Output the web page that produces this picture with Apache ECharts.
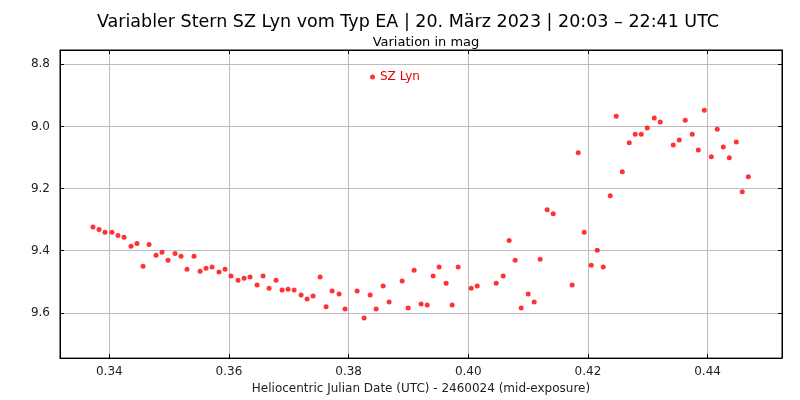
<!DOCTYPE html>
<html>
<head>
<meta charset="utf-8">
<script src="https://cdn.jsdelivr.net/npm/echarts@6/dist/echarts.min.js"></script>
<style>html,body{margin:0;padding:0;background:#fff}#c{width:800px;height:400px}</style>
</head>
<body>
<div id="c"></div>
<script>
const titleText = 'Variabler Stern SZ Lyn vom Typ EA | 20. März 2023 | 20:03 – 22:41 UTC';
const subtitleText = 'Variation in mag';
const xAxisName = 'Heliocentric Julian Date (UTC) - 2460024 (mid-exposure)';
const seriesName = 'SZ Lyn';

const hjd = [
0.33727,0.33828,0.33928,0.34045,0.34145,0.34246,0.34363,0.34463,0.34564,0.34664,
0.34781,0.34881,0.34982,0.35099,0.35199,0.35299,0.35416,0.35517,0.35617,0.35717,
0.35834,0.35935,0.36035,0.36152,0.36253,0.36353,0.36470,0.36570,0.36671,0.36788,
0.36888,0.36988,0.37089,0.37206,0.37306,0.37406,0.37523,0.37624,0.37724,0.37841,
0.37941,0.38142,0.38259,0.38360,0.38460,0.38577,0.38677,0.38895,0.38995,0.39095,
0.39212,0.39313,0.39413,0.39513,0.39630,0.39731,0.39831,0.40049,0.40149,0.40467,
0.40584,0.40684,0.40784,0.40885,0.41002,0.41102,0.41202,0.41319,0.41420,0.41737,
0.41838,0.41938,0.42055,0.42156,0.42256,0.42373,0.42473,0.42574,0.42691,0.42791,
0.42891,0.42992,0.43109,0.43209,0.43426,0.43527,0.43627,0.43744,0.43845,0.43945,
0.44062,0.44162,0.44263,0.44363,0.44480,0.44580,0.44681
];
const mag = [
9.324,9.332,9.341,9.341,9.351,9.357,9.386,9.377,9.450,9.380,
9.415,9.405,9.431,9.409,9.418,9.460,9.418,9.466,9.457,9.453,
9.469,9.460,9.482,9.495,9.489,9.485,9.511,9.482,9.521,9.495,
9.527,9.524,9.527,9.543,9.556,9.546,9.485,9.581,9.530,9.540,
9.588,9.530,9.617,9.543,9.588,9.514,9.565,9.498,9.585,9.463,
9.572,9.575,9.482,9.453,9.505,9.575,9.453,9.521,9.514,9.505,
9.482,9.367,9.431,9.585,9.540,9.565,9.428,9.268,9.281,9.511,
9.085,9.341,9.447,9.399,9.453,9.223,8.967,9.146,9.053,9.025,
9.025,9.005,8.973,8.986,9.060,9.044,8.980,9.025,9.076,8.948,
9.098,9.009,9.066,9.101,9.050,9.210,9.162
];

const xMin = 0.33176, xMax = 0.45244;
const yMin = 8.754, yMax = 9.746;

const points = hjd.map((x, i) => [x, mag[i]]);
const font = 'DejaVu Sans';

const chart = echarts.init(document.getElementById('c'), null, {renderer: 'canvas'});
const near = (v, step) => Math.abs(v / step - Math.round(v / step)) < 1e-6;

const baseX = {
  type: 'value', min: xMin, max: xMax, splitNumber: 6,
  axisLine: {show: true, lineStyle: {color: '#000', width: 1}},
  axisTick: {show: true, inside: true, length: 4, lineStyle: {color: '#000'}}
};
const baseY = {
  type: 'value', min: yMin, max: yMax, inverse: true, splitNumber: 5,
  axisLine: {show: true, lineStyle: {color: '#000', width: 1}},
  axisTick: {show: true, inside: true, length: 4, lineStyle: {color: '#000'}}
};

chart.setOption({
  animation: false,
  backgroundColor: '#fff',
  title: [
    {text: titleText, left: 403, top: 8, textAlign: 'center',
     textStyle: {fontFamily: font, fontSize: 17.5, fontWeight: 'normal', color: '#000'}},
    {text: subtitleText, left: 421, top: 31, textAlign: 'center',
     textStyle: {fontFamily: font, fontSize: 13, fontWeight: 'normal', color: '#000'}}
  ],
  legend: {
    left: 365, top: 66, icon: 'circle', itemWidth: 5, itemHeight: 5, itemGap: 4,
    textStyle: {fontFamily: font, fontSize: 12, color: '#e00000'},
    data: [seriesName]
  },
  grid: {left: 60, right: 18, top: 50, bottom: 40, show: true, borderColor: '#000', borderWidth: 1},
  xAxis: [
    Object.assign({}, baseX, {
      position: 'bottom',
      name: xAxisName, nameLocation: 'middle', nameGap: 23,
      nameTextStyle: {fontFamily: font, fontSize: 12, color: '#222'},
      axisLabel: {fontFamily: font, fontSize: 12, color: '#222', margin: 8,
        showMinLabel: false, showMaxLabel: false,
        formatter: v => near(v, 0.02) ? v.toFixed(2) : ''},
      splitLine: {show: true, lineStyle: {color: '#bdbdbd', width: 1}}
    }),
    Object.assign({}, baseX, {
      position: 'top', axisLabel: {show: false}, splitLine: {show: false}
    })
  ],
  yAxis: [
    Object.assign({}, baseY, {
      position: 'left',
      axisLabel: {fontFamily: font, fontSize: 12, color: '#222', margin: 10,
        showMinLabel: false, showMaxLabel: false,
        formatter: v => near(v, 0.2) ? v.toFixed(1) : ''},
      splitLine: {show: true, lineStyle: {color: '#bdbdbd', width: 1}}
    }),
    Object.assign({}, baseY, {
      position: 'right', axisLabel: {show: false}, splitLine: {show: false}
    })
  ],
  series: [{
    name: seriesName, type: 'scatter', xAxisIndex: 0, yAxisIndex: 0,
    symbol: 'circle', symbolSize: 5,
    itemStyle: {color: '#ff0000'},
    data: points
  }]
});
</script>
</body>
</html>
